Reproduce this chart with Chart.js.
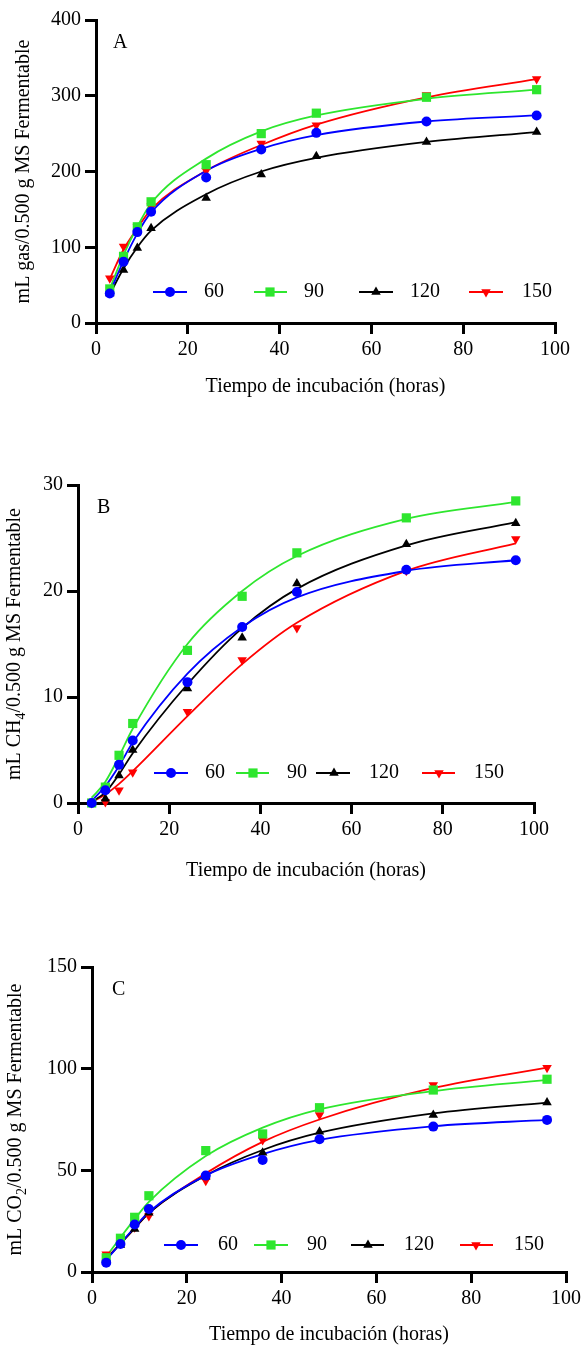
<!DOCTYPE html>
<html>
<head>
<meta charset="utf-8">
<script src="https://cdn.jsdelivr.net/npm/chart.js@4.4.0/dist/chart.umd.min.js"></script>
<style>
body { margin: 0; background: #fff; width: 581px; height: 1351px; position: relative; overflow: hidden; }
canvas { position: absolute; left: 0; }
</style>
</head>
<body>
<canvas id="Chart_A" width="581" height="450" style="top:0px"></canvas>
<canvas id="Chart_B" width="581" height="455" style="top:450px"></canvas>
<canvas id="Chart_C" width="581" height="446" style="top:905px"></canvas>
<script>
// horas de incubacion
var horas = [3, 6, 9, 12, 24, 36, 48, 72, 96];
var series = ["60", "90", "120", "150"];

// A - gas total (puntos y curva ajustada)
var gas60 = [39, 81, 120, 147, 192, 229, 251, 266, 274];
var gas90 = [45, 88, 127, 160, 209, 250, 277, 298, 308];
var gas120 = [39, 70, 99, 125, 165, 196, 220, 239, 252];
var gas150 = [59, 101, 127, 154, 201, 237, 261, 301, 322];
var gasFit60 = [40, 82, 118, 146, 201, 230, 248, 266, 274];
var gasFit90 = [45, 90, 127, 158, 217, 253, 274, 296, 308];
var gasFit120 = [38, 72, 100, 122, 170, 200, 218, 239, 252];
var gasFit150 = [58, 97, 125, 150, 201, 235, 262, 298, 322];

// B - CH4
var ch4_60 = [0, 1.2, 3.6, 5.9, 11.4, 16.6, 19.9, 22.0, 22.9];
var ch4_90 = [0, 1.5, 4.5, 7.5, 14.4, 19.5, 23.6, 26.9, 28.5];
var ch4_120 = [0, 0.4, 2.6, 5.0, 10.8, 15.6, 20.7, 24.4, 26.4];
var ch4_150 = [0, 0.1, 1.2, 2.9, 8.6, 13.5, 16.5, 21.9, 24.9];
var ch4Fit60 = [0.2, 1.6, 3.5, 5.7, 12.2, 16.6, 19.4, 21.9, 22.9];
var ch4Fit90 = [0.5, 2.0, 4.4, 7.0, 15.0, 20.0, 23.3, 26.8, 28.4];
var ch4Fit120 = [0.1, 1.0, 2.7, 4.7, 11.2, 16.5, 20.2, 24.3, 26.5];
var ch4Fit150 = [0.1, 0.8, 1.8, 3.0, 8.2, 13.1, 17.0, 21.9, 24.5];

// C - CO2
var co2_60 = [4.6, 13.8, 23.4, 31, 47.4, 55.1, 65.3, 71.5, 74.8];
var co2_90 = [7.0, 16.6, 26.9, 37.5, 59.7, 67.9, 80.8, 89.5, 94.8];
var co2_120 = [6, 13.3, 21.2, 29.2, 46.9, 58.7, 69.0, 77.2, 83.3];
var co2_150 = [8.7, 14, 22, 27.5, 44.9, 64.9, 77.2, 92, 100.5];
var co2Fit60 = [6, 14, 22, 29.5, 47.5, 58, 65, 71.7, 74.8];
var co2Fit90 = [7.5, 17, 26, 34.5, 57, 71, 80, 89, 94.5];
var co2Fit120 = [6.5, 14, 21.5, 29, 47.5, 60, 68.5, 78, 83.3];
var co2Fit150 = [6.5, 14, 21.5, 29, 48.5, 64, 75, 90.5, 100.5];

var colores = ["#0000ff", "#2ee62e", "#000000", "#ff0000"];
var estilos = ["circle", "rect", "triangle", "triangle"];
var giros = [0, 0, 0, 180];
var radios = [5, 6.5, 5.5, 5.5];
var FUENTE = '"Liberation Serif", "Times New Roman", serif';

function fXY(yArr) {
    var d = [];
    for (var i = 0; i < horas.length; i++) { d.push({ x: horas[i], y: yArr[i] }); }
    return d;
}

// textos: letra, titulos y leyenda dentro del grafico
var pTextos = {
    id: "pTextos",
    afterDraw: function (chart) {
        var o = chart.options.plugins.pTextos;
        var ctx = chart.ctx; var ca = chart.chartArea;
        ctx.save();
        ctx.fillStyle = "#000";
        ctx.font = "20px " + FUENTE;
        ctx.textBaseline = "middle";
        ctx.textAlign = "left";
        ctx.fillText(o.letra, o.letraX, o.letraY);

        ctx.textAlign = "center";
        ctx.fillText("Tiempo de incubación (horas)", (ca.left + ca.right) / 2, o.xTitY);

        // titulo eje y (con subindice)
        var partes = o.yTit; var total = 0; var anchos = [];
        for (var i = 0; i < partes.length; i++) {
            ctx.font = (partes[i][1] ? "14px " : "20px ") + FUENTE;
            anchos[i] = ctx.measureText(partes[i][0]).width; total += anchos[i];
        }
        ctx.save();
        ctx.translate(o.yTitX, (ca.top + ca.bottom) / 2);
        ctx.rotate(-Math.PI / 2);
        ctx.textAlign = "left";
        var px = -total / 2;
        for (var i = 0; i < partes.length; i++) {
            ctx.font = (partes[i][1] ? "14px " : "20px ") + FUENTE;
            ctx.fillText(partes[i][0], px, partes[i][1] ? 6 : 0);
            px += anchos[i];
        }
        ctx.restore();

        // leyenda
        var ly = o.leyY;
        for (var k = 0; k < series.length; k++) {
            var it = o.ley[k];
            ctx.strokeStyle = colores[k]; ctx.fillStyle = colores[k]; ctx.lineWidth = 2;
            ctx.beginPath(); ctx.moveTo(it[0], ly); ctx.lineTo(it[1], ly); ctx.stroke();
            Chart.helpers.drawPoint(ctx, { pointStyle: estilos[k], radius: radios[k], rotation: giros[k], borderWidth: 0 }, it[2], ly);
            ctx.fillStyle = "#000"; ctx.font = "20px " + FUENTE; ctx.textAlign = "left";
            ctx.fillText(series[k], it[3], ly);
        }
        ctx.restore();
    }
};

function fChart(id, puntos, curvas, yMax, yPaso, cfg) {
    var DSets = [];
    for (var i = 0; i < puntos.length; i++) {
        DSets.push({
            label: series[i], data: fXY(puntos[i]), showLine: false,
            pointStyle: estilos[i], rotation: giros[i], pointRadius: radios[i],
            backgroundColor: colores[i], borderColor: colores[i], pointBorderWidth: 0, clip: false
        });
    }
    for (var i = 0; i < curvas.length; i++) {
        DSets.push({
            label: series[i] + " ajuste", data: fXY(curvas[i]), showLine: true,
            cubicInterpolationMode: "monotone", pointRadius: 0, borderWidth: 1.8,
            borderColor: colores[i], backgroundColor: colores[i], fill: false
        });
    }

    var ejeX = {
        type: "linear", min: 0, max: 100,
        ticks: { stepSize: 20, color: "#000", padding: 4, font: { family: FUENTE, size: 20 } },
        grid: { drawOnChartArea: false, drawTicks: true, tickLength: 11, lineWidth: 3, color: "#000" },
        border: { display: true, width: 3, color: "#000" },
        afterFit: function (s) { s.height = cfg.altoX; s.paddingLeft = 0; s.paddingRight = 0; }
    };
    var ejeY = {
        type: "linear", min: 0, max: yMax,
        ticks: { stepSize: yPaso, color: "#000", padding: 4, font: { family: FUENTE, size: 20 } },
        grid: { drawOnChartArea: false, drawTicks: true, tickLength: 11, lineWidth: 3, color: "#000" },
        border: { display: true, width: 3, color: "#000" },
        afterFit: function (s) { s.width = cfg.anchoY; s.paddingTop = 0; s.paddingBottom = 0; }
    };

    new Chart(document.getElementById(id), {
        type: "scatter",
        data: { datasets: DSets },
        options: {
            responsive: false, animation: false, devicePixelRatio: 1,
            layout: { padding: { left: 0, top: cfg.arriba, right: cfg.derecha, bottom: 0 } },
            scales: { x: ejeX, y: ejeY },
            plugins: { legend: { display: false }, tooltip: { enabled: false }, pTextos: cfg.textos }
        },
        plugins: [pTextos]
    });
}

fChart("Chart_A", [gas60, gas90, gas120, gas150], [gasFit60, gasFit90, gasFit120, gasFit150], 400, 100, {
    anchoY: 96, altoX: 127, arriba: 20, derecha: 26,
    textos: {
        letra: "A", letraX: 113, letraY: 43, xTitY: 387, yTitX: 24,
        yTit: [["mL gas/0.500 g MS Fermentable", false]],
        leyY: 292, ley: [[153, 187, 170, 204], [254, 287, 270, 304], [359, 393, 376, 410], [469, 503, 486, 522]]
    }
});

fChart("Chart_B", [ch4_60, ch4_90, ch4_120, ch4_150], [ch4Fit60, ch4Fit90, ch4Fit120, ch4Fit150], 30, 10, {
    anchoY: 78, altoX: 102, arriba: 35, derecha: 47,
    textos: {
        letra: "B", letraX: 97, letraY: 58, xTitY: 421, yTitX: 15,
        yTit: [["mL CH", false], ["4", true], ["/0.500 g MS Fermentable", false]],
        leyY: 323, ley: [[154, 188, 171, 205], [236, 269, 253, 287], [316, 350, 334, 369], [422, 455, 439, 474]]
    }
});

fChart("Chart_C", [co2_60, co2_90, co2_120, co2_150], [co2Fit60, co2Fit90, co2Fit120, co2Fit150], 150, 50, {
    anchoY: 92, altoX: 79, arriba: 62, derecha: 15,
    textos: {
        letra: "C", letraX: 112, letraY: 85, xTitY: 430, yTitX: 16,
        yTit: [["mL CO", false], ["2", true], ["/0.500 g MS Fermentable", false]],
        leyY: 340, ley: [[164, 198, 181, 218], [254, 288, 271, 307], [351, 384, 368, 404], [460, 493, 476, 514]]
    }
});
</script>
</body>
</html>
